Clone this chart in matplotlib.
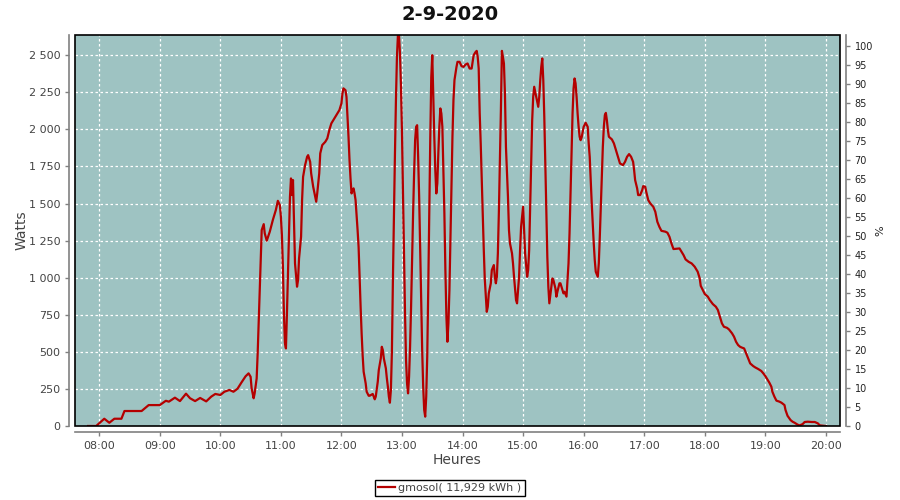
import matplotlib
matplotlib.use('Agg')
import matplotlib.pyplot as plt
import matplotlib.ticker as plticker
from matplotlib.patches import Rectangle

# minute of the day (08:00 = 480) and power in watts
minute_of_day = [
    469, 477, 485, 490, 495, 502, 505, 509, 522, 529, 540, 546, 549, 555, 560, 566, 570, 575, 580, 586,
    591, 595, 600, 604, 609, 613, 617, 621, 625, 628, 630, 631, 633, 634, 636, 637, 638, 639, 640, 641,
    643, 644, 646, 649, 652, 655, 657, 659, 660, 661, 662, 663, 664, 665, 666, 667, 668, 669, 670, 671,
    672, 673, 674, 676, 677, 678, 680, 681, 682, 684, 686, 687, 689, 690, 692, 694, 695, 696, 698, 699,
    701, 704, 706, 708, 710, 713, 715, 718, 720, 721, 722, 724, 725, 726, 727, 728, 729, 730, 731, 732,
    733, 734, 735, 736, 737, 738, 739, 740, 741, 742, 744, 745, 747, 748, 751, 753, 754, 756, 757, 759,
    760, 761, 762, 764, 765, 766, 767, 768, 769, 770, 771, 772, 773, 774, 775, 776, 777, 778, 779, 780,
    781, 782, 783, 784, 785, 786, 787, 788, 789, 790, 791, 792, 793, 794, 795, 796, 797, 798, 799, 800,
    801, 802, 803, 804, 805, 806, 807, 808, 809, 810, 811, 812, 813, 814, 815, 816, 817, 818, 819, 820,
    821, 822, 823, 824, 825, 826, 827, 828, 829, 830, 831, 832, 834, 835, 837, 839, 841, 843, 845, 847,
    849, 850, 851, 853, 854, 855, 856, 857, 858, 859, 860, 861, 862, 864, 865, 866, 868, 869, 871, 872,
    873, 874, 875, 876, 877, 878, 879, 880, 881, 882, 883, 885, 886, 887, 889, 890, 891, 893, 894, 895,
    896, 897, 898, 899, 900, 901, 902, 904, 905, 906, 907, 908, 909, 910, 911, 912, 914, 915, 916, 917,
    918, 919, 920, 921, 922, 923, 924, 925, 926, 928, 929, 930, 932, 933, 934, 936, 937, 939, 940, 941,
    943, 944, 945, 946, 947, 948, 949, 950, 951, 952, 953, 954, 955, 956, 957, 958, 960, 962, 964, 965,
    966, 967, 968, 969, 970, 971, 972, 974, 975, 976, 977, 978, 979, 980, 981, 982, 983, 984, 985, 988,
    990, 992, 994, 996, 999, 1001, 1003, 1005, 1007, 1009, 1010, 1011, 1013, 1014, 1016, 1018, 1019, 1021, 1022, 1024,
    1026, 1029, 1031, 1033, 1035, 1037, 1041, 1043, 1045, 1047, 1049, 1052, 1055, 1057, 1059, 1061, 1064, 1067, 1070, 1073,
    1075, 1076, 1078, 1080, 1083, 1085, 1088, 1091, 1093, 1095, 1097, 1099, 1102, 1104, 1107, 1109, 1111, 1113, 1115, 1117,
    1119, 1121, 1123, 1125, 1128, 1130, 1133, 1136, 1138, 1140, 1142, 1144, 1146, 1147, 1149, 1151, 1154, 1156, 1159, 1160,
    1162, 1165, 1167, 1169, 1172, 1174, 1177, 1179, 1182, 1186, 1189, 1192, 1194, 1200,
]
watts = [
    0, 0, 49, 22, 49, 49, 101, 101, 101, 141, 141, 170, 164, 191, 168, 218, 187, 168, 189, 166,
    198, 216, 209, 231, 243, 231, 251, 294, 335, 355, 332, 254, 187, 220, 321, 490, 703, 928, 1130, 1321,
    1361, 1299, 1249, 1310, 1388, 1456, 1518, 1489, 1411, 1287, 1074, 760, 560, 523, 759, 1029, 1321, 1545, 1669, 1557,
    1658, 1366, 1096, 939, 984, 1130, 1276, 1523, 1680, 1759, 1815, 1826, 1781, 1703, 1613, 1545, 1512, 1568, 1703, 1838,
    1894, 1916, 1939, 1995, 2040, 2074, 2096, 2130, 2175, 2242, 2276, 2264, 2219, 2084, 1950, 1793, 1669, 1568, 1590, 1602,
    1568, 1523, 1422, 1321, 1208, 1006, 804, 625, 478, 366, 288, 231, 204, 204, 216, 180, 198, 299, 377, 456,
    534, 512, 456, 389, 321, 265, 198, 157, 243, 500, 984, 1411, 1826, 2197, 2489, 2640, 2640, 2512, 2287, 1973,
    1568, 1141, 759, 445, 288, 220, 332, 534, 804, 1119, 1433, 1703, 1927, 2017, 2028, 1815, 1545, 1208, 849, 512,
    265, 108, 63, 198, 467, 917, 1433, 1927, 2350, 2500, 2219, 1950, 1725, 1568, 1636, 1838, 2017, 2141, 2107, 2017,
    1725, 1433, 1051, 737, 568, 692, 917, 1253, 1613, 1950, 2197, 2332, 2421, 2455, 2455, 2426, 2421, 2437, 2444, 2410,
    2410, 2455, 2500, 2522, 2529, 2489, 2410, 2107, 1905, 1680, 1433, 1197, 995, 770, 804, 894, 962, 1051, 1085, 1006,
    962, 1006, 1164, 1444, 1770, 2130, 2529, 2489, 2444, 2242, 1882, 1545, 1321, 1231, 1164, 1096, 1006, 849, 827, 917,
    1006, 1186, 1343, 1411, 1478, 1321, 1164, 1006, 1051, 1186, 1478, 1793, 2062, 2219, 2287, 2253, 2186, 2152, 2219, 2332,
    2421, 2478, 2332, 2084, 1770, 1456, 1141, 939, 827, 939, 995, 984, 928, 872, 905, 962, 962, 917, 894, 905,
    872, 984, 1096, 1299, 1568, 1860, 2107, 2276, 2343, 2310, 2219, 2107, 2017, 1950, 1927, 1945, 2017, 2044, 2017, 1905,
    1815, 1658, 1501, 1366, 1231, 1119, 1040, 1006, 1096, 1276, 1478, 1680, 1882, 2017, 2096, 2111, 2062, 1995, 1950, 1932,
    1905, 1860, 1815, 1770, 1759, 1781, 1815, 1833, 1815, 1781, 1725, 1658, 1602, 1557, 1557, 1590, 1617, 1613, 1579, 1523,
    1501, 1478, 1444, 1377, 1343, 1316, 1310, 1303, 1276, 1231, 1193, 1195, 1197, 1175, 1152, 1123, 1107, 1096, 1074, 1040,
    995, 945, 917, 890, 872, 849, 822, 804, 782, 737, 692, 669, 662, 651, 625, 602, 568, 546, 534, 528,
    523, 490, 456, 422, 404, 395, 384, 371, 355, 337, 315, 292, 265, 231, 198, 171, 164, 157, 141, 108,
    69, 40, 29, 22, 9, 4, 13, 27, 29, 27, 27, 18, 4, 0,
]
assert len(minute_of_day) == len(watts)

title = '2-9-2020'
series_label = 'gmosol( 11,929 kWh )'
hour_ticks = [8, 9, 10, 11, 12, 13, 14, 15, 16, 17, 18, 19, 20]
watt_ticks = [0, 250, 500, 750, 1000, 1250, 1500, 1750, 2000, 2250, 2500]
pct_ticks = list(range(0, 101, 5))

BG = '#9ec3c2'
LINE = '#b40000'
AXIS_GREY = '#808080'
TEXT_GREY = '#444444'

fig = plt.figure(figsize=(9, 5), dpi=100)
ax = fig.add_axes([75 / 900, 1 - 426 / 500, 765 / 900, 391 / 500])
ax.set_facecolor(BG)

ax.plot(minute_of_day, watts, color=LINE, lw=1.6, label=series_label, zorder=3)

ax.set_xlim(456, 1214)
ax.set_ylim(0, 2636)
ax.set_xticks([h * 60 for h in hour_ticks])
ax.set_xticklabels(['%02d:00' % h for h in hour_ticks])
ax.set_yticks(watt_ticks)
ax.yaxis.set_major_formatter(plticker.FuncFormatter(lambda v, p: '{:,}'.format(int(v)).replace(',', ' ')))
ax.grid(True, color='white', linestyle=(0, (2, 2)), lw=0.9)
ax.set_axisbelow(True)

for s in ['top', 'right']:
    ax.spines[s].set_visible(False)
for s in ['left', 'bottom']:
    ax.spines[s].set_position(('outward', 4))
    ax.spines[s].set_color(AXIS_GREY)
    ax.spines[s].set_linewidth(1.2)
ax.tick_params(axis='both', colors=AXIS_GREY, labelcolor=TEXT_GREY, labelsize=8, length=3, width=1)

# black frame around the data area
ax.add_patch(Rectangle((0, 0), 1, 1, transform=ax.transAxes, fill=False,
                       edgecolor='black', lw=1.2, zorder=5, clip_on=False))

ax2 = ax.twinx()
ax2.set_ylim(0, 102.9)
ax2.set_yticks(pct_ticks)
for s in ['top', 'left', 'bottom']:
    ax2.spines[s].set_visible(False)
ax2.spines['right'].set_position(('outward', 4))
ax2.spines['right'].set_color(AXIS_GREY)
ax2.spines['right'].set_linewidth(1.2)
ax2.tick_params(axis='y', colors=AXIS_GREY, labelcolor='#222222', labelsize=7, length=3, width=1)

fig.text(0.5, 0.972, title, ha='center', va='center', fontsize=14, fontweight='bold', color='#111111')
fig.text(457.5 / 900, 1 - 460 / 500, 'Heures', ha='center', va='center', fontsize=10, color=TEXT_GREY)
fig.text(22 / 900, 1 - 230.5 / 500, 'Watts', ha='center', va='center', fontsize=10, rotation=90, color=TEXT_GREY)
fig.text(880 / 900, 1 - 230.5 / 500, '%', ha='center', va='center', fontsize=8, rotation=90, color='#222222')

leg = fig.legend(loc='center', bbox_to_anchor=(450 / 900, 1 - 488 / 500), fontsize=8, frameon=True,
                 fancybox=False, edgecolor='black', framealpha=1, handlelength=1.5, handletextpad=0.3,
                 borderpad=0.3, borderaxespad=0)
for t in leg.get_texts():
    t.set_color(TEXT_GREY)

fig.savefig('out.png', dpi=100)
